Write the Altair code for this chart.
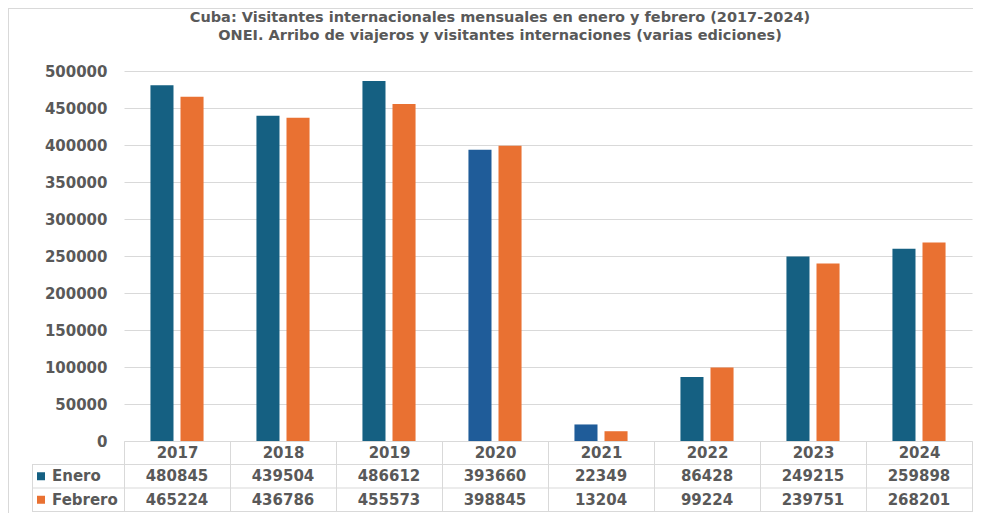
import altair as alt
import pandas as pd

years = ["2017", "2018", "2019", "2020", "2021", "2022", "2023", "2024"]
enero = [480845, 439504, 486612, 393660, 22349, 86428, 249215, 259898]
febrero = [465224, 436786, 455573, 398845, 13204, 99224, 239751, 268201]
series = ["Enero", "Febrero"]
y_ticks = [0, 50000, 100000, 150000, 200000, 250000, 300000, 350000, 400000, 450000, 500000]
title_lines = [
    "Cuba: Visitantes internacionales mensuales en enero y febrero (2017-2024)",
    "ONEI. Arribo de viajeros y visitantes internaciones (varias ediciones)",
]

rows = []
for i, yr in enumerate(years):
    rows.append({"year": yr, "serie": "Enero", "value": enero[i]})
    rows.append({"year": yr, "serie": "Febrero", "value": febrero[i]})
df = pd.DataFrame(rows)
one = pd.DataFrame({"k": [0]})

FONT = "DejaVu Sans"
GRAY = "#595959"
LINE = "#d9d9d9"
C_ENERO = "#156082"
C_ENERO_B = "#1f5c99"
C_FEB = "#e97132"

PAD_LEFT = 116
W, H = 848, 370
PAD_TOP = 63
ROW = 23.5
R1 = H + ROW          # bottom of year row
R2 = H + 2 * ROW      # bottom of Enero row
R3 = H + 3 * ROW      # bottom of Febrero row
LEG_LEFT = 32 - 8 - PAD_LEFT   # legend cell left edge

xscale = alt.Scale(domain=years, paddingInner=0, paddingOuter=0)

base = alt.Chart(df)

bars = base.mark_bar().transform_calculate(
    ckey="datum.serie == 'Enero' && (datum.year == '2020' || datum.year == '2021') ? 'EneroB' : datum.serie"
).encode(
    x=alt.X("year:N", scale=xscale, sort=years, axis=alt.Axis(
        title=None, labelAngle=0, labelFont=FONT, labelFontSize=15, labelFontWeight="bold",
        labelColor=GRAY, tickBand="extent", tickSize=3 * ROW, tickColor=LINE, tickWidth=1,
        domainColor=LINE, domainWidth=1, labelPadding=ROW / 2 - 3 * ROW, labelBaseline="middle", grid=False)),
    xOffset=alt.XOffset("serie:N", scale=alt.Scale(domain=series, paddingInner=0.233, paddingOuter=0.88)),
    y=alt.Y("value:Q", scale=alt.Scale(domain=[0, 500000], nice=False, zero=True), axis=alt.Axis(
        title=None, values=y_ticks, format="d", domain=False, ticks=False, labelPadding=17,
        labelFont=FONT, labelFontSize=15, labelFontWeight="bold", labelColor=GRAY,
        gridColor=LINE, gridWidth=1)),
    color=alt.Color("ckey:N", scale=alt.Scale(domain=["Enero", "EneroB", "Febrero"],
                                               range=[C_ENERO, C_ENERO_B, C_FEB]), legend=None),
)

txt_style = dict(font=FONT, fontSize=15, fontWeight="bold", color=GRAY, align="center", baseline="middle")
Y_EN = R1 + ROW / 2
Y_FE = R2 + ROW / 2

val_enero = base.transform_filter("datum.serie == 'Enero'").mark_text(**txt_style).encode(
    x=alt.X("year:N", scale=xscale, sort=years), y=alt.value(Y_EN), text=alt.Text("value:Q", format="d"))
val_feb = base.transform_filter("datum.serie == 'Febrero'").mark_text(**txt_style).encode(
    x=alt.X("year:N", scale=xscale, sort=years), y=alt.value(Y_FE), text=alt.Text("value:Q", format="d"))

def rule(x1, x2, y1, y2):
    return alt.Chart(one).mark_rule(color=LINE, strokeWidth=1).encode(
        x=alt.value(x1), x2=alt.value(x2), y=alt.value(y1), y2=alt.value(y2))

rules = [
    rule(LEG_LEFT, W, R1, R1),
    rule(LEG_LEFT, W, R2, R2),
    rule(LEG_LEFT, W, R3, R3),
    rule(LEG_LEFT + 0.5, LEG_LEFT + 0.5, R1, R3),
    rule(-PAD_LEFT + 0.5, -PAD_LEFT + 0.5, -PAD_TOP, R3 + 5),
    rule(-PAD_LEFT, W + 1, -PAD_TOP + 0.5, -PAD_TOP + 0.5),
]

leg_sq_e = alt.Chart(one).mark_square(size=64, color=C_ENERO, opacity=1).encode(
    x=alt.value(LEG_LEFT + 9), y=alt.value(Y_EN))
leg_sq_f = alt.Chart(one).mark_square(size=64, color=C_FEB, opacity=1).encode(
    x=alt.value(LEG_LEFT + 9), y=alt.value(Y_FE))
leg_t_e = alt.Chart(pd.DataFrame({"t": [series[0]]})).mark_text(
    font=FONT, fontSize=15, fontWeight="bold", color=GRAY, align="left", baseline="middle").encode(
    x=alt.value(LEG_LEFT + 20), y=alt.value(Y_EN), text="t:N")
leg_t_f = alt.Chart(pd.DataFrame({"t": [series[1]]})).mark_text(
    font=FONT, fontSize=15, fontWeight="bold", color=GRAY, align="left", baseline="middle").encode(
    x=alt.value(LEG_LEFT + 20), y=alt.value(Y_FE), text="t:N")

title_style = dict(font=FONT, fontSize=14.5, fontWeight="bold", color=GRAY, align="center", baseline="alphabetic")
TITLE_X = 500 - 8 - PAD_LEFT
title_1 = alt.Chart(pd.DataFrame({"t": [title_lines[0]]})).mark_text(**title_style).encode(
    x=alt.value(TITLE_X), y=alt.value(-49), text="t:N")
title_2 = alt.Chart(pd.DataFrame({"t": [title_lines[1]]})).mark_text(**title_style).encode(
    x=alt.value(TITLE_X), y=alt.value(-31.5), text="t:N")

chart = alt.layer(bars, val_enero, val_feb, leg_sq_e, leg_sq_f, leg_t_e, leg_t_f,
                  title_1, title_2, *rules).properties(
    width=W, height=H,
    padding={"left": PAD_LEFT, "top": PAD_TOP, "right": 1, "bottom": 3 * ROW + 1},
    autosize=alt.AutoSizeParams(type="none"),
).configure_view(stroke=None)

chart.save("out.html", embed_options={"renderer": "svg", "actions": False})
